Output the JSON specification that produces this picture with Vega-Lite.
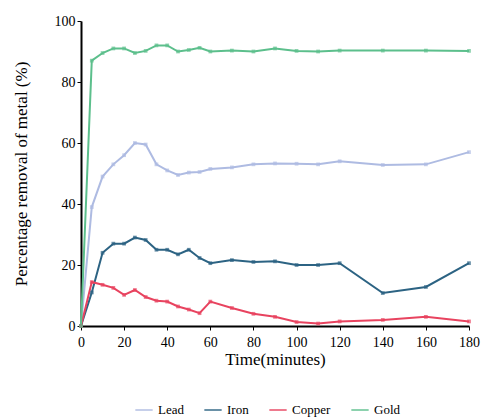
{
  "$schema": "https://vega.github.io/schema/vega-lite/v6.json",
  "width": 388,
  "height": 305,
  "autosize": "none",
  "padding": {"left": 81, "top": 21, "right": 13, "bottom": 93},
  "background": "white",
  "config": {
    "view": {"stroke": null},
    "font": "Liberation Serif",
    "axis": {"grid": false, "domainColor": "black", "tickColor": "black", "labelColor": "black", "titleColor": "black", "titleFontWeight": "normal", "labelFlush": false}
  },
  "data": {"values": [
    {"t":0,"m":"Lead","v":0},{"t":5,"m":"Lead","v":39},{"t":10,"m":"Lead","v":49},{"t":15,"m":"Lead","v":53},{"t":20,"m":"Lead","v":56},{"t":25,"m":"Lead","v":60},{"t":30,"m":"Lead","v":59.5},{"t":35,"m":"Lead","v":53},{"t":40,"m":"Lead","v":51},{"t":45,"m":"Lead","v":49.5},{"t":50,"m":"Lead","v":50.3},{"t":55,"m":"Lead","v":50.5},{"t":60,"m":"Lead","v":51.5},{"t":70,"m":"Lead","v":52},{"t":80,"m":"Lead","v":53},{"t":90,"m":"Lead","v":53.3},{"t":100,"m":"Lead","v":53.2},{"t":110,"m":"Lead","v":53},{"t":120,"m":"Lead","v":54},{"t":140,"m":"Lead","v":52.8},{"t":160,"m":"Lead","v":53},{"t":180,"m":"Lead","v":57},
    {"t":0,"m":"Iron","v":0},{"t":5,"m":"Iron","v":11},{"t":10,"m":"Iron","v":24},{"t":15,"m":"Iron","v":27},{"t":20,"m":"Iron","v":27},{"t":25,"m":"Iron","v":29},{"t":30,"m":"Iron","v":28.2},{"t":35,"m":"Iron","v":25},{"t":40,"m":"Iron","v":25},{"t":45,"m":"Iron","v":23.5},{"t":50,"m":"Iron","v":25},{"t":55,"m":"Iron","v":22.3},{"t":60,"m":"Iron","v":20.6},{"t":70,"m":"Iron","v":21.6},{"t":80,"m":"Iron","v":21},{"t":90,"m":"Iron","v":21.2},{"t":100,"m":"Iron","v":20},{"t":110,"m":"Iron","v":20},{"t":120,"m":"Iron","v":20.6},{"t":140,"m":"Iron","v":10.8},{"t":160,"m":"Iron","v":12.8},{"t":180,"m":"Iron","v":20.6},
    {"t":0,"m":"Copper","v":0},{"t":5,"m":"Copper","v":14.4},{"t":10,"m":"Copper","v":13.5},{"t":15,"m":"Copper","v":12.5},{"t":20,"m":"Copper","v":10.2},{"t":25,"m":"Copper","v":11.8},{"t":30,"m":"Copper","v":9.5},{"t":35,"m":"Copper","v":8.3},{"t":40,"m":"Copper","v":8},{"t":45,"m":"Copper","v":6.4},{"t":50,"m":"Copper","v":5.4},{"t":55,"m":"Copper","v":4.2},{"t":60,"m":"Copper","v":8},{"t":70,"m":"Copper","v":5.9},{"t":80,"m":"Copper","v":4},{"t":90,"m":"Copper","v":3},{"t":100,"m":"Copper","v":1.3},{"t":110,"m":"Copper","v":0.8},{"t":120,"m":"Copper","v":1.5},{"t":140,"m":"Copper","v":2},{"t":160,"m":"Copper","v":3},{"t":180,"m":"Copper","v":1.5},
    {"t":0,"m":"Gold","v":0},{"t":5,"m":"Gold","v":87},{"t":10,"m":"Gold","v":89.5},{"t":15,"m":"Gold","v":91},{"t":20,"m":"Gold","v":91},{"t":25,"m":"Gold","v":89.5},{"t":30,"m":"Gold","v":90.2},{"t":35,"m":"Gold","v":92},{"t":40,"m":"Gold","v":92},{"t":45,"m":"Gold","v":90},{"t":50,"m":"Gold","v":90.5},{"t":55,"m":"Gold","v":91.2},{"t":60,"m":"Gold","v":90},{"t":70,"m":"Gold","v":90.3},{"t":80,"m":"Gold","v":90},{"t":90,"m":"Gold","v":91},{"t":100,"m":"Gold","v":90.2},{"t":110,"m":"Gold","v":90},{"t":120,"m":"Gold","v":90.3},{"t":140,"m":"Gold","v":90.3},{"t":160,"m":"Gold","v":90.3},{"t":180,"m":"Gold","v":90.2}
  ]},
  "encoding": {
    "x": {"field": "t", "type": "quantitative", "scale": {"domain": [0, 180], "nice": false},
      "axis": {"values": [0,20,40,60,80,100,120,140,160,180], "title": "Time(minutes)", "titleFont": "Liberation Serif", "labelFont": "Liberation Serif", "titleFontSize": 17, "labelFontSize": 14, "titlePadding": 2, "domainWidth": 2, "tickSize": 4, "labelPadding": 5, "labelFlush": false}},
    "y": {"field": "v", "type": "quantitative", "scale": {"domain": [0, 100], "nice": false},
      "axis": {"values": [0,20,40,60,80,100], "title": "Percentage removal of metal (%)", "titleFont": "Liberation Serif", "labelFont": "Liberation Serif", "titleFontSize": 17, "labelFontSize": 14, "titlePadding": 24, "domainWidth": 2, "tickSize": 4, "labelFlush": false}},
    "color": {"field": "m", "type": "nominal", "sort": ["Lead","Iron","Copper","Gold"],
      "scale": {"domain": ["Lead","Iron","Copper","Gold"], "range": ["#aebbe2","#2c6383","#e8435f","#5cbf8c"]},
      "legend": {"title": null, "orient": "none", "direction": "horizontal", "legendX": 53, "legendY": 379, "symbolType": "stroke", "symbolStrokeWidth": 2, "symbolSize": 300, "columnPadding": 16, "labelFont": "Liberation Serif", "labelFontSize": 13, "labelColor": "black"}}
  },
  "layer": [
    {"mark": {"type": "line", "strokeWidth": 2}},
    {"mark": {"type": "point", "filled": true, "size": 14, "shape": "square"}}
  ]
}
